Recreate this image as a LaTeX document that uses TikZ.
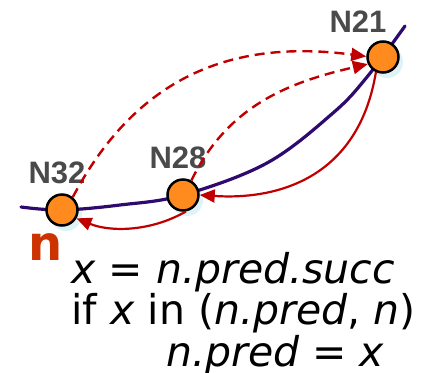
\documentclass[tikz,border=0pt]{standalone}
\usepackage{fontspec}
\setmainfont{DejaVu Sans}
\newfontfamily\labelfont{Liberation Sans}
\usetikzlibrary{arrows.meta}
\definecolor{nodeorange}{HTML}{FF8A1E}
\definecolor{shadowblue}{HTML}{DDF3F8}
\definecolor{ringpurple}{HTML}{2E0A6E}
\definecolor{arrowred}{HTML}{C00000}
\definecolor{labelgray}{HTML}{4A4A4A}
\definecolor{nred}{HTML}{CC3300}
\tikzset{
  peer/.style={circle, draw=black, line width=2.5pt, fill=nodeorange, minimum size=31pt, inner sep=0pt},
  peershadow/.style={circle, fill=shadowblue, minimum size=32pt, inner sep=0pt},
  peerlabel/.style={font=\labelfont\bfseries\fontsize{31}{32}\selectfont, text=labelgray, inner sep=0pt},
  succarrow/.style={draw=arrowred, line width=2.2pt, -{Triangle[length=15pt,width=13pt]}},
  predarrow/.style={draw=arrowred, line width=2.4pt, dash pattern=on 10pt off 6pt, -{Triangle[length=15pt,width=13pt]}},
  codeline/.style={anchor=base west, inner sep=0pt, font=\fontsize{41}{42}\selectfont}
}
\begin{document}
\begin{tikzpicture}[x=1pt,y=-1pt]
\useasboundingbox (0,0) rectangle (424,373);
% shadows
\node[peershadow] (s32) at (66,215) {};
\node[peershadow] (s28) at (187,200) {};
\node[peershadow] (s21) at (387,62) {};
% ring
\draw[ringpurple, line width=3.2pt, line cap=round] plot[smooth, tension=0.6] coordinates {(21,207) (62,210) (120,205) (183,195) (267,163) (333,113) (367,77) (405,26)};
% peers
\node[peer] (n32) at (62,210) {};
\node[peer] (n28) at (183,195) {};
\node[peer] (n21) at (383,57) {};
% labels
\node[peerlabel] (l32) at (57,173) {N32};
\node[peerlabel] (l28) at (178,158) {N28};
\node[peerlabel] (l21) at (358,22) {N21};
% successor arrows
\draw[succarrow] (n21.245) .. controls (358,180) and (275,200) .. (n28.east);
\draw[succarrow] (n28.280) .. controls (150,232) and (110,232) .. (n32.330);
% predecessor (dashed) arrows
\draw[predarrow] (n32.50) .. controls (140,70) and (240,40) .. (n21.178);
\draw[predarrow] (n28.60) .. controls (228,105) and (290,82) .. (n21.205);
% text
\node[anchor=base west, inner sep=0pt, text=nred, font=\bfseries\fontsize{48}{50}\selectfont] (nlab) at (28,260) {n};
\node[codeline] (c1) at (71,283) {\textit{x} = \textit{n.pred.succ}};
\node[codeline] (c2) at (71,324) {if \textit{x} in (\textit{n.pred}, \textit{n})};
\node[codeline] (c3) at (166,366) {\textit{n.pred} = \textit{x}};
\end{tikzpicture}
\end{document}
